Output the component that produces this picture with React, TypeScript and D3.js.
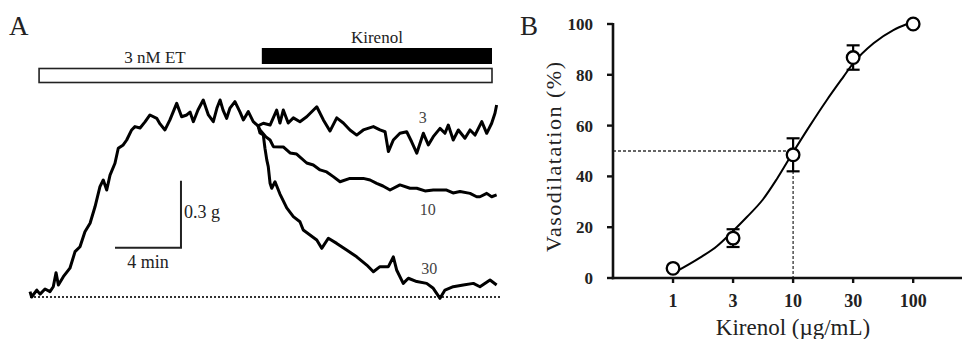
import * as d3 from 'd3';

// Panel A: tension trace (time in min, tension in g)
const riseTime = [0, 0.1, 0.41, 0.61, 0.91, 1.21, 1.41, 1.58, 1.72, 2.02, 2.42, 2.73, 3.03, 3.33, 3.64, 3.94, 4.24, 4.44, 4.65, 4.85, 5.15, 5.35, 5.65, 5.86, 6.16, 6.36, 6.67, 6.97, 7.27, 7.68, 7.88, 8.18, 8.48, 8.89, 9.19, 9.5, 9.7, 9.9, 10.18, 10.5, 10.81, 11.11, 11.33, 11.52, 11.7, 11.92, 12.12, 12.42, 12.73, 12.93, 13.23, 13.53, 13.82];
const riseTension = [0.024, 0.0, 0.031, 0.013, 0.036, 0.024, 0.046, 0.109, 0.054, 0.091, 0.129, 0.203, 0.225, 0.292, 0.33, 0.404, 0.494, 0.524, 0.479, 0.546, 0.599, 0.666, 0.681, 0.703, 0.748, 0.763, 0.757, 0.784, 0.815, 0.8, 0.775, 0.748, 0.793, 0.867, 0.807, 0.815, 0.828, 0.785, 0.837, 0.882, 0.815, 0.785, 0.846, 0.882, 0.837, 0.8, 0.846, 0.875, 0.828, 0.793, 0.83, 0.785, 0.766];

const time3 = [14.14, 14.55, 14.95, 15.15, 15.35, 15.65, 15.96, 16.36, 16.77, 17.38, 17.78, 18.18, 18.59, 18.99, 19.39, 19.8, 20.2, 20.81, 21.21, 21.52, 21.72, 22.02, 22.42, 22.83, 23.13, 23.44, 23.84, 24.14, 24.44, 24.85, 25.15, 25.35, 25.65, 25.96, 26.36, 26.67, 26.97, 27.38, 27.68, 27.98, 28.18, 28.28];
const tension3 = [0.778, 0.77, 0.837, 0.779, 0.837, 0.779, 0.802, 0.785, 0.807, 0.852, 0.793, 0.743, 0.802, 0.779, 0.748, 0.725, 0.748, 0.763, 0.748, 0.74, 0.651, 0.703, 0.733, 0.74, 0.695, 0.644, 0.733, 0.681, 0.718, 0.755, 0.733, 0.77, 0.703, 0.748, 0.711, 0.748, 0.725, 0.785, 0.733, 0.778, 0.823, 0.86];

const time10 = [13.94, 14.3, 14.55, 14.75, 15.35, 15.76, 16.16, 16.77, 17.17, 17.58, 17.98, 18.38, 18.79, 19.39, 20.2, 20.61, 21.01, 21.39, 21.82, 22.42, 23.03, 23.44, 23.94, 24.44, 25.25, 25.64, 26.06, 26.67, 27.07, 27.27, 27.68, 27.98, 28.28];
const tension10 = [0.748, 0.717, 0.703, 0.673, 0.672, 0.645, 0.64, 0.6, 0.591, 0.569, 0.56, 0.539, 0.516, 0.531, 0.531, 0.524, 0.509, 0.497, 0.479, 0.502, 0.487, 0.487, 0.475, 0.479, 0.479, 0.466, 0.472, 0.464, 0.449, 0.449, 0.464, 0.449, 0.457];

const time30 = [13.94, 14.14, 14.24, 14.35, 14.44, 14.55, 14.65, 14.85, 15.15, 15.56, 15.96, 16.36, 16.56, 16.97, 17.38, 17.68, 18.08, 18.59, 19.19, 19.8, 20.41, 20.81, 21.21, 21.72, 22.02, 22.22, 22.62, 22.93, 23.44, 24.04, 24.44, 24.85, 25.15, 25.65, 26.26, 26.87, 27.27, 27.88, 28.28];
const tension30 = [0.734, 0.725, 0.666, 0.614, 0.584, 0.509, 0.487, 0.516, 0.461, 0.399, 0.36, 0.337, 0.3, 0.278, 0.255, 0.218, 0.263, 0.24, 0.21, 0.18, 0.143, 0.113, 0.136, 0.136, 0.18, 0.121, 0.061, 0.084, 0.069, 0.061, 0.039, -0.006, 0.031, 0.046, 0.054, 0.061, 0.046, 0.076, 0.054];

const branchLabels = ['3', '10', '30'];
const labelTime = [23.8, 24.1, 24.2];
const labelTension = [0.78, 0.367, 0.103];

const etStart = 0.55;
const kirenolStart = 14.05;
const treatmentEnd = 28.0;
const scaleMin = 4;
const scaleG = 0.3;

// Panel B: concentration-response
const doses = ['1', '3', '10', '30', '100'];
const meanRelax = [3.8, 15.7, 48.5, 86.8, 100];
const semRelax = [0, 3.5, 6.5, 4.8, 0];
const yTicks = [0, 20, 40, 60, 80, 100];
const fitStep = [0.05, 0.45, 0.73, 1, 1.23, 1.5, 1.73, 2, 2.28, 2.56, 2.84, 3, 3.34, 3.67, 3.9];
const fitRelax = [2.5, 8, 12.5, 18.5, 24, 31, 39, 49.5, 60, 70, 79.3, 84.5, 92.4, 97.6, 100];
const ec50Step = 2;

const serif = '"Liberation Serif", "Times New Roman", serif';

export default function App() {
  const width = 963;
  const height = 339;

  // panel A scales
  const xA = d3.scaleLinear().domain([0, 28.5]).range([30, 500.25]);
  const yA = d3.scaleLinear().domain([0, 0.9]).range([297, 96]);
  const traceLine = d3
    .line<[number, number]>()
    .x((d) => xA(d[0]))
    .y((d) => yA(d[1]));

  const rise = riseTime.map((t, i) => [t, riseTension[i]] as [number, number]);
  const split = rise[rise.length - 1];
  const branches = [
    [split, ...time3.map((t, i) => [t, tension3[i]] as [number, number])],
    [split, ...time10.map((t, i) => [t, tension10[i]] as [number, number])],
    [split, ...time30.map((t, i) => [t, tension30[i]] as [number, number])],
  ];

  const sbX = 9.15;
  const sbY = 0.22;

  // panel B scales
  const xB = d3.scaleLinear().domain([-1, 4.83]).range([613, 963]);
  const yB = d3.scaleLinear().domain([0, 100]).range([278, 24]);
  const fitLine = d3
    .line<number>()
    .x((d) => xB(d))
    .y((_, i) => yB(fitRelax[i]))
    .curve(d3.curveMonotoneX);

  return (
    <svg
      width={width}
      height={height}
      viewBox={`0 0 ${width} ${height}`}
      style={{ position: 'absolute', left: 0, top: 0, background: '#fff' }}
      fontFamily={serif}
    >
      {/* Panel A */}
      <text x={9} y={35} fontSize={27} fill="#222">A</text>

      <text x={xA((kirenolStart + treatmentEnd) / 2)} y={43} fontSize={17} textAnchor="middle" fill="#222">
        Kirenol
      </text>
      <rect x={xA(kirenolStart)} y={48} width={xA(treatmentEnd) - xA(kirenolStart)} height={16} fill="#000" />
      <text x={155} y={63} fontSize={17} textAnchor="middle" fill="#222">
        3 nM ET
      </text>
      <rect
        x={xA(etStart)}
        y={68.5}
        width={xA(treatmentEnd) - xA(etStart)}
        height={14}
        fill="#fff"
        stroke="#222"
        strokeWidth={1.6}
      />

      <line x1={xA(0)} x2={500} y1={yA(0)} y2={yA(0)} stroke="#333" strokeWidth={2} strokeDasharray="2 2" />

      <path d={traceLine(rise) ?? ''} fill="none" stroke="#000" strokeWidth={3} strokeLinejoin="round" />
      {branches.map((b, i) => (
        <path key={i} d={traceLine(b) ?? ''} fill="none" stroke="#000" strokeWidth={3} strokeLinejoin="round" />
      ))}
      {branchLabels.map((l, i) => (
        <text key={l} x={xA(labelTime[i])} y={yA(labelTension[i])} fontSize={16} textAnchor="middle" fill="#444">
          {l}
        </text>
      ))}

      {/* scale bar */}
      <path
        d={`M${xA(sbX - scaleMin)},${yA(sbY)}H${xA(sbX)}V${yA(sbY + scaleG)}`}
        fill="none"
        stroke="#222"
        strokeWidth={2}
      />
      <text x={xA(sbX) + 3} y={yA(sbY + scaleG / 2) + 4} fontSize={18} fill="#222">
        0.3 g
      </text>
      <text x={xA(sbX - scaleMin / 2)} y={268} fontSize={18} textAnchor="middle" fill="#222">
        4 min
      </text>

      {/* Panel B */}
      <text x={520} y={35} fontSize={27} fill="#222">B</text>

      <line x1={xB(-1)} x2={xB(ec50Step)} y1={yB(50)} y2={yB(50)} stroke="#333" strokeWidth={1.3} strokeDasharray="3 2" />
      <line x1={xB(ec50Step)} x2={xB(ec50Step)} y1={yB(50)} y2={yB(0)} stroke="#333" strokeWidth={1.3} strokeDasharray="3 2" />

      <line x1={xB(-1)} x2={xB(-1)} y1={yB(100) - 1} y2={yB(0) + 1.2} stroke="#111" strokeWidth={2.6} />
      <line x1={xB(-1) - 1.3} x2={962} y1={yB(0)} y2={yB(0)} stroke="#111" strokeWidth={2.6} />
      {yTicks.map((t) => (
        <g key={t}>
          <line x1={xB(-1) - 6} x2={xB(-1)} y1={yB(t)} y2={yB(t)} stroke="#111" strokeWidth={2.4} />
          <text x={593} y={yB(t) + 6} fontSize={17} fontWeight="bold" textAnchor="end" fill="#222">
            {t}
          </text>
        </g>
      ))}
      {doses.map((d, i) => (
        <g key={d}>
          <line x1={xB(i)} x2={xB(i)} y1={yB(0)} y2={yB(0) + 5} stroke="#111" strokeWidth={2.4} />
          <text x={xB(i)} y={307} fontSize={18} fontWeight="bold" textAnchor="middle" fill="#222">
            {d}
          </text>
        </g>
      ))}

      <text x={793} y={335} fontSize={23} textAnchor="middle" fill="#222">
        Kirenol (µg/mL)
      </text>
      <text
        transform={`translate(561,157) rotate(-90)`}
        fontSize={22}
        textAnchor="middle"
        textLength={190}
        lengthAdjust="spacing"
        fill="#222"
      >
        Vasodilatation  (%)
      </text>

      <path d={fitLine(fitStep) ?? ''} fill="none" stroke="#000" strokeWidth={2} />

      {meanRelax.map((m, i) => (
        <g key={i}>
          {semRelax[i] > 0 && (
            <g stroke="#000" strokeWidth={2.2}>
              <line x1={xB(i)} x2={xB(i)} y1={yB(m + semRelax[i])} y2={yB(m - semRelax[i])} />
              <line x1={xB(i) - 6.5} x2={xB(i) + 6.5} y1={yB(m + semRelax[i])} y2={yB(m + semRelax[i])} />
              <line x1={xB(i) - 6.5} x2={xB(i) + 6.5} y1={yB(m - semRelax[i])} y2={yB(m - semRelax[i])} />
            </g>
          )}
          <circle cx={xB(i)} cy={yB(m)} r={6.3} fill="#fff" stroke="#000" strokeWidth={2.3} />
        </g>
      ))}
    </svg>
  );
}
